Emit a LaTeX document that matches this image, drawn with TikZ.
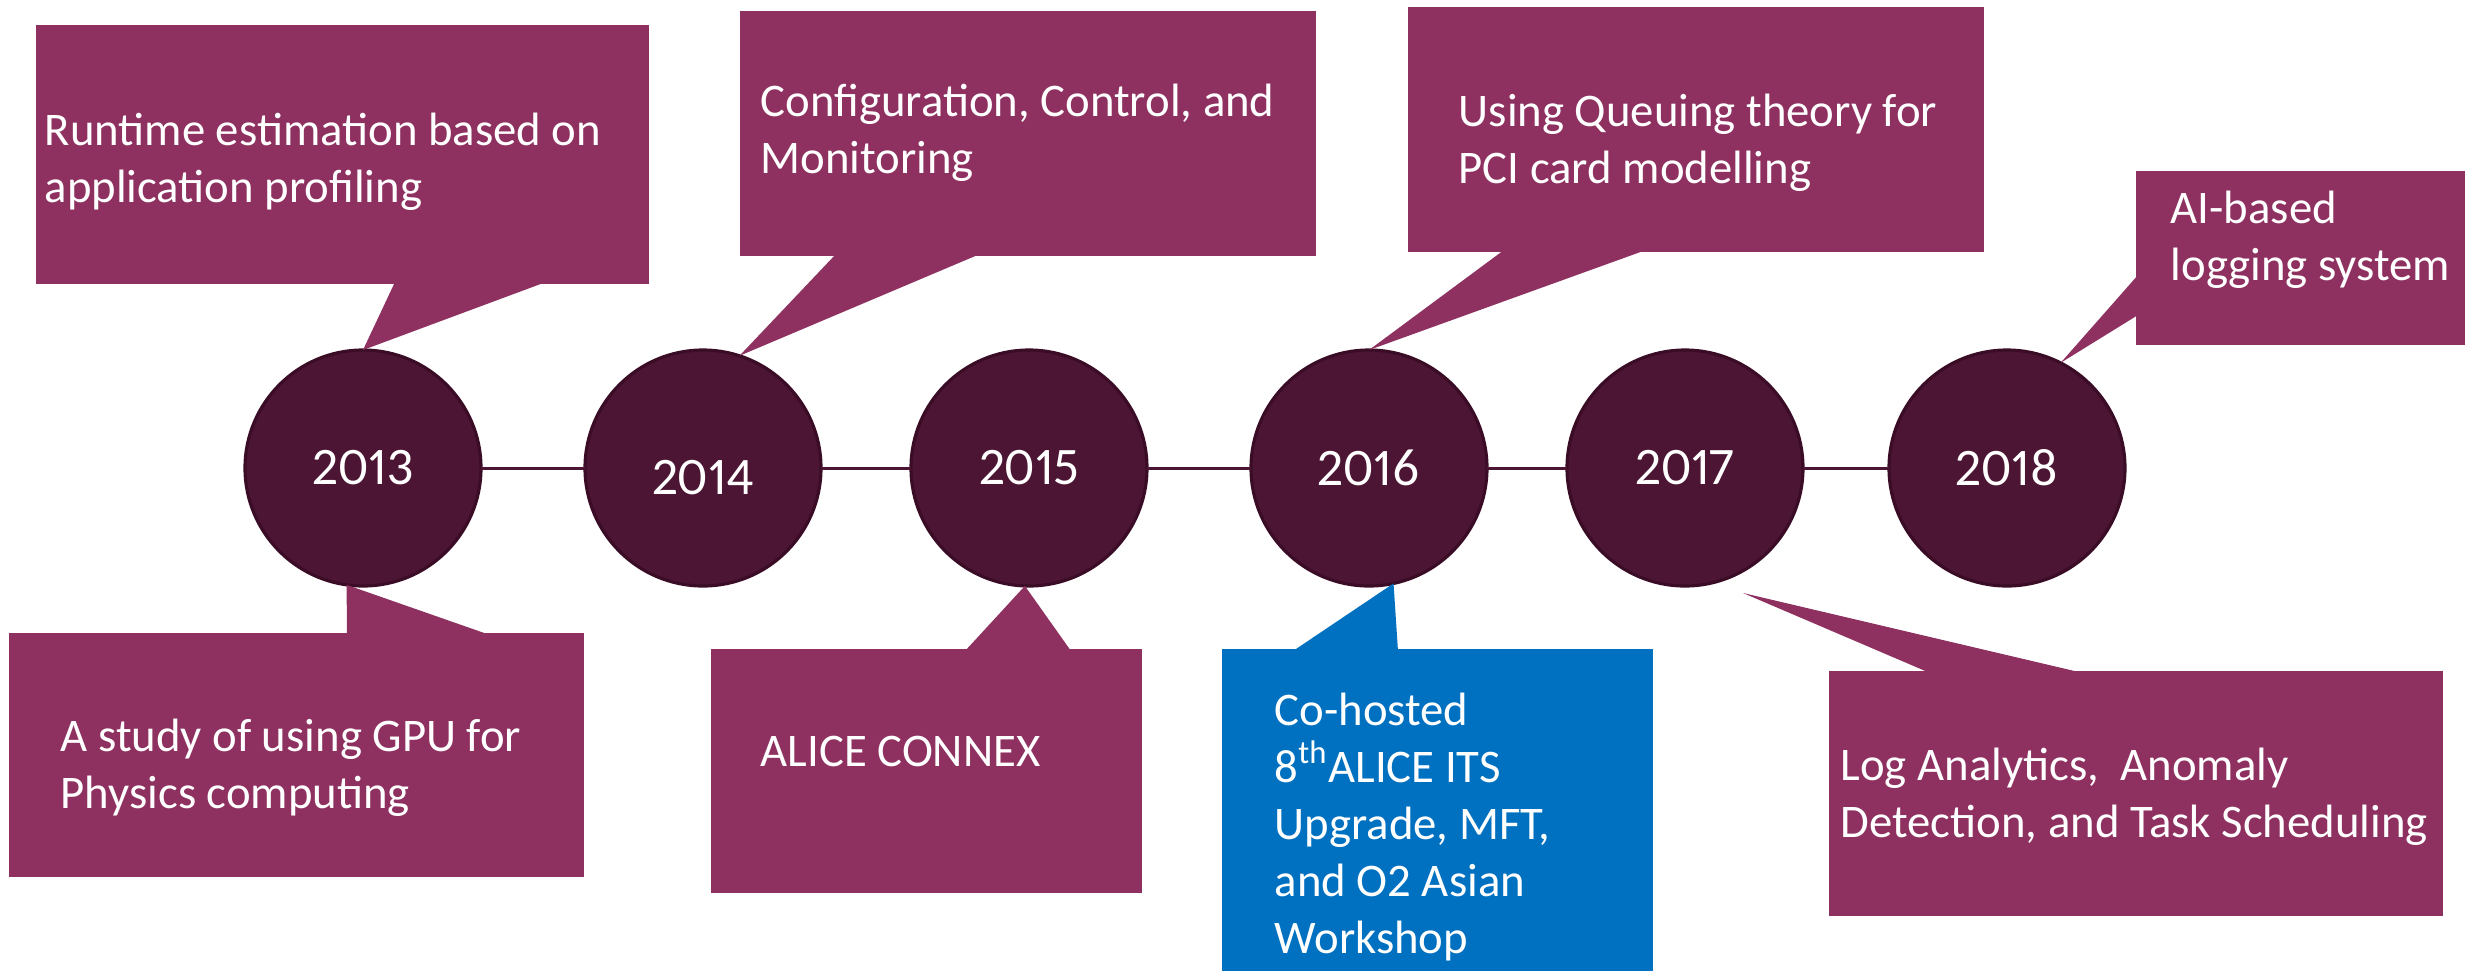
\documentclass[tikz,border=0pt]{standalone}
\usepackage{fontspec}
\setmainfont{Carlito}
\newfontfamily\yearfont[Numbers=Proportional]{Carlito}
\usepackage{tikz}
\usetikzlibrary{positioning}
\definecolor{boxpurple}{RGB}{142,49,96}
\definecolor{yearfill}{RGB}{76,21,51}
\definecolor{yearline}{RGB}{58,12,38}
\definecolor{hostblue}{RGB}{0,112,192}

\begin{document}
\begin{tikzpicture}[x=0.1mm, y=-0.1mm,
        year/.style={circle, fill=yearfill, draw=yearline, line width=0.9pt, minimum size=23.6mm, inner sep=0pt, outer sep=0pt, text=white, font=\yearfont\fontsize{15}{18}\selectfont},
        callbox/.style={rectangle, fill=boxpurple, anchor=north west, inner sep=0pt, outer sep=0pt},
        calltext/.style={anchor=base west, align=left, inner sep=0pt, text=white, font=\fontsize{13.3}{16.2}\selectfont},
        pointer/.style={fill=boxpurple}]
    \useasboundingbox (0,0) rectangle (2465,971);
    \node[year] (year_2013) at (363,468) {2013};
    \node[year, text height=5.3mm, text depth=0pt] (year_2014) at (703,468) {2014};
    \node[year] (year_2015) at (1029,468) {2015};
    \node[year] (year_2016) at (1369,468) {2016};
    \node[year] (year_2017) at (1685,468) {2017};
    \node[year] (year_2018) at (2007,468) {2018};
    \draw[yearfill, line width=0.85pt] (year_2013) -- (year_2014) -- (year_2015) -- (year_2016) -- (year_2017) -- (year_2018);

    \node[callbox, minimum width=61.3mm, minimum height=25.9mm] (box_runtime) at (36,25) {};
    \node[callbox, minimum width=57.6mm, minimum height=24.5mm] (box_config) at (740,11) {};
    \node[callbox, minimum width=57.6mm, minimum height=24.5mm] (box_queue) at (1408,7) {};
    \node[callbox, minimum width=32.9mm, minimum height=17.4mm] (box_logging) at (2136,171) {};
    \node[callbox, minimum width=57.5mm, minimum height=24.4mm] (box_gpu) at (9,633) {};
    \node[callbox, minimum width=43.1mm, minimum height=24.4mm] (box_connex) at (711,649) {};
    \node[callbox, fill=hostblue, minimum width=43.1mm, minimum height=32.2mm] (box_workshop) at (1222,649) {};
    \node[callbox, minimum width=61.4mm, minimum height=24.5mm] (box_analytics) at (1829,671) {};

    \coordinate (tip_2017) at (1743,593);
    \fill[pointer] (395,282) -- (year_2013.north) -- (546,282) -- cycle;
    \fill[pointer] (836,254) -- (year_2014.72) -- (980,254) -- cycle;
    \fill[pointer] (1504,250) -- (year_2016.north) -- (1646,250) -- cycle;
    \fill[pointer] (2138,275) -- (year_2018.63) -- (2138,315) -- cycle;
    \fill[pointer] (347,635) -- (year_2013.262) -- (490,635) -- cycle;
    \fill[pointer] (965,651) -- (year_2015.268) -- (1071,651) -- cycle;
    \fill[pointer, fill=hostblue] (1293,651) -- (year_2016.282) -- (1398,651) -- cycle;
    \fill[pointer] (1930,673) -- (tip_2017) -- (2083,673) -- cycle;

    \node[calltext] (text_runtime) at (44,202) {Runtime estimation based on\\application profiling};
    \node[calltext] (text_config) at (760,173) {Configuration, Control, and\\Monitoring};
    \node[calltext] (text_queue) at (1458,183) {Using Queuing theory for\\PCI card modelling};
    \node[calltext] (text_logging) at (2170,280) {AI-based\\logging system};
    \node[calltext] (text_gpu) at (60,808) {A study of using GPU for\\Physics computing};
    \node[calltext] (text_connex) at (760,766) {ALICE CONNEX};
    \node[calltext] (text_workshop) at (1274,953) {Co-hosted\\8\textsuperscript{th}ALICE ITS\\Upgrade, MFT,\\and O2 Asian\\Workshop};
    \node[calltext] (text_analytics) at (1840,837) {Log Analytics,\ \ Anomaly\\Detection, and Task Scheduling};
\end{tikzpicture}
\end{document}
